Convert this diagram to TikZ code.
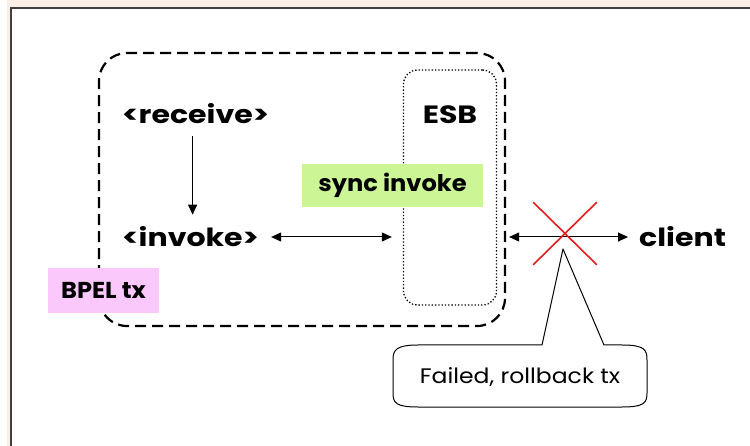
\documentclass[tikz,border=0pt]{standalone}
\usepackage{fontspec}
\setmainfont{Poppins}
\newfontfamily\gothic[FakeStretch=1.2]{Poppins}
\newfontfamily\gothicnarrow[FakeStretch=1.05]{Poppins}
\newfontfamily\gothicnote[FakeStretch=1.12]{Poppins}
\usetikzlibrary{positioning,arrows.meta,shapes.misc}

\definecolor{framebeige}{RGB}{252,240,230}
\definecolor{syncgreen}{RGB}{204,246,150}
\definecolor{txpink}{RGB}{250,200,250}
\definecolor{failred}{RGB}{225,30,30}

\begin{document}
\begin{tikzpicture}[x=1pt,y=-1pt,
  lbl/.style={font=\gothic\bfseries\fontsize{25}{25}\selectfont,inner sep=0pt},
  tag/.style={font=\gothicnarrow\bfseries\fontsize{23}{23}\selectfont,inner sep=0pt},
  link/.style={{Triangle[length=10pt,width=9pt]}-{Triangle[length=10pt,width=9pt]},line width=1pt},
  txbox/.style={draw,dash pattern=on 11pt off 6pt,line width=2.2pt,rounded corners=28pt,
    minimum width=406pt,minimum height=273pt,inner sep=0pt},
  esbbox/.style={draw,dotted,line width=1.3pt,rounded corners=14pt,
    minimum width=93pt,minimum height=235pt,inner sep=0pt}]
  \useasboundingbox (0,0) rectangle (750,446);
  % frame
  \fill[framebeige] (7,0) rectangle (752,448);
  \fill[white] (10,7) rectangle (752,448);
  \draw[black!75,line width=1.6pt] (10.8,448) -- (10.8,7.8) -- (752,7.8);

  % boxes
  \node[txbox] (tx) at (302,189.5) {};
  \node[esbbox] (esb) at (450,187.5) {};
  \node[lbl] (esbl) at (450,115) {ESB};
  \node[tag,fill=syncgreen,minimum width=181pt,minimum height=43pt] (sync) at (392.5,185.5) {sync invoke};
  \node[tag,fill=txpink,minimum width=111pt,minimum height=45pt] (bpel) at (103.5,290.5) {BPEL tx};

  % activities
  \node[lbl,anchor=west] (recv) at (122,114) {<receive>};
  \node[lbl,anchor=west] (inv) at (122,237) {<invoke>};
  \node[lbl,anchor=west] (client) at (639,237) {client};
  \draw[-{Triangle[length=10pt,width=9pt]},line width=1pt] ([xshift=-3pt,yshift=-12pt]recv.south) -- ([xshift=-3pt,yshift=12pt]recv.south |- inv.north);
  \draw[link] ([xshift=12pt]inv.east) -- ([xshift=-11pt]esb.west |- inv.east);
  \draw[link] ([xshift=3pt]tx.east |- client.west) -- ([xshift=-11pt]client.west);

  % failure
  \node[cross out,draw=failred,line width=1.6pt,minimum width=62pt,minimum height=61pt,inner sep=0pt] (fx) at (565,233.5) {};
  \coordinate (tip) at (563,249);
  \node[font=\gothicnote\fontsize{21}{21}\selectfont] (fail) at (520,377) {Failed, rollback tx};
  % callout outline
  \draw[line width=1pt,line join=round] (542,345) -- (tip) -- (604,345) -- (622,345)
    .. controls (645,345) and (647,350) .. (647,360) -- (647,393)
    .. controls (647,403) and (644,407) .. (622,407) -- (418,407)
    .. controls (396,407) and (393,403) .. (393,393) -- (393,360)
    .. controls (393,350) and (396,345) .. (418,345) -- cycle;
\end{tikzpicture}
\end{document}
